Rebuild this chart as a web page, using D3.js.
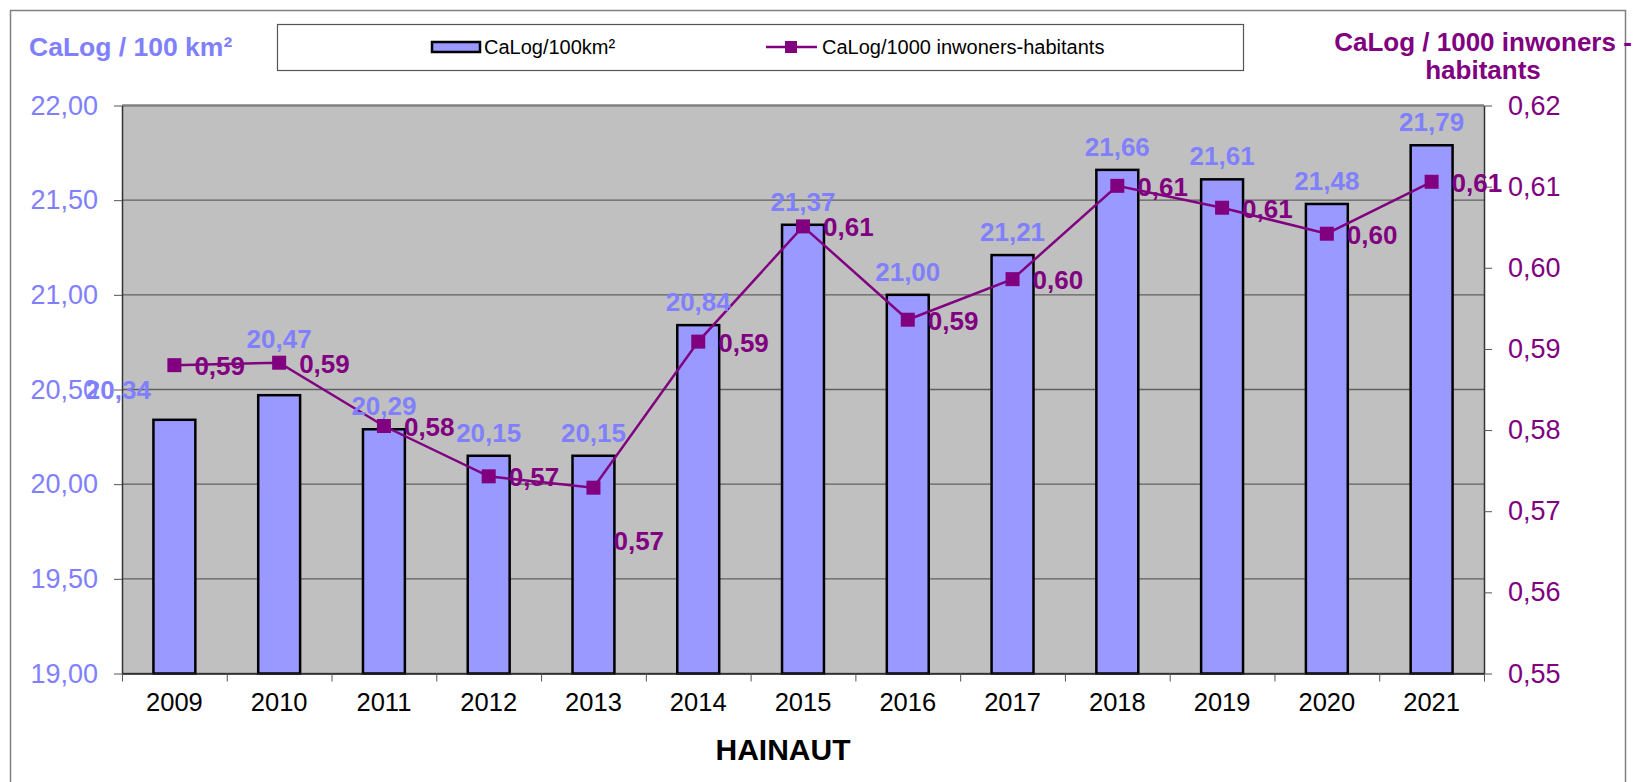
<!DOCTYPE html>
<html lang="fr">
  <head>
    <meta charset="utf-8" />
    <title>HAINAUT</title>
    <script src="https://d3js.org/d3.v7.min.js"></script>
    <style>
      body { margin: 0; background: #fff; }
      text { font-family: "Liberation Sans", Arial, sans-serif; }
    </style>
  </head>
  <body>
    <div id="chart"></div>
    <script>
      var years = ["2009", "2010", "2011", "2012", "2013", "2014", "2015", "2016", "2017", "2018", "2019", "2020", "2021"];
      var perArea = [20.34, 20.47, 20.29, 20.15, 20.15, 20.84, 21.37, 21.0, 21.21, 21.66, 21.61, 21.48, 21.79];
      var perInhabitants = [0.588, 0.5883, 0.5805, 0.5743, 0.5729, 0.5909, 0.6051, 0.5936, 0.5986, 0.6101, 0.6074, 0.6042, 0.6106];
      var leftTicks = [19.0, 19.5, 20.0, 20.5, 21.0, 21.5, 22.0];
      var rightTicks = [0.55, 0.56, 0.57, 0.58, 0.59, 0.6, 0.61, 0.62];
      var leftTitle = "CaLog / 100 km²";
      var rightTitle = ["CaLog / 1000 inwoners -", "habitants"];
      var seriesNames = ["CaLog/100km²", "CaLog/1000 inwoners-habitants"];
      var xTitle = "HAINAUT";

      var width = 1639,
        height = 782;
      var plot = { left: 122, right: 1484, top: 105.5, bottom: 673.5 };
      var barColor = "#9999ff";
      var lineColor = "#800080";
      var leftColor = "#8080ff";

      var fr = d3.formatLocale({ decimal: ",", thousands: ".", grouping: [3], currency: ["", "€"] });
      var fmt = fr.format(".2f");

      var svg = d3
        .select("#chart")
        .append("svg")
        .attr("width", width)
        .attr("height", height);

      // outer frame
      svg
        .append("rect")
        .attr("x", 10.5)
        .attr("y", 10.5)
        .attr("width", 1615)
        .attr("height", 800)
        .attr("fill", "none")
        .attr("stroke", "#808080")
        .attr("stroke-width", 1.5);

      var x = d3.scaleBand().domain(years).range([plot.left, plot.right]).paddingInner(0.6).paddingOuter(0.3);
      var xEdge = d3.scaleLinear().domain([0, years.length]).range([plot.left, plot.right]);
      var yLeft = d3.scaleLinear().domain([19, 22]).range([plot.bottom, plot.top]);
      var yRight = d3.scaleLinear().domain([0.55, 0.62]).range([plot.bottom, plot.top]);

      svg
        .append("rect")
        .attr("x", plot.left)
        .attr("y", plot.top)
        .attr("width", plot.right - plot.left)
        .attr("height", plot.bottom - plot.top)
        .attr("fill", "#c0c0c0");

      svg
        .append("g")
        .selectAll("line")
        .data(leftTicks)
        .enter()
        .append("line")
        .attr("x1", plot.left)
        .attr("x2", plot.right)
        .attr("y1", (d) => yLeft(d))
        .attr("y2", (d) => yLeft(d))
        .attr("stroke", (d, i) => (i == leftTicks.length - 1 ? "#808080" : "#606060"))
        .attr("stroke-width", (d, i) => (i == leftTicks.length - 1 ? 2.5 : 1.3));

      svg
        .append("g")
        .selectAll("rect")
        .data(perArea)
        .enter()
        .append("rect")
        .attr("x", (d, i) => x(years[i]))
        .attr("width", x.bandwidth())
        .attr("y", (d) => yLeft(d))
        .attr("height", (d) => plot.bottom - yLeft(d))
        .attr("fill", barColor)
        .attr("stroke", "#000")
        .attr("stroke-width", 2.5);

      // left axis
      var axL = svg
        .append("g")
        .attr("transform", "translate(" + plot.left + ",0)")
        .call(d3.axisLeft(yLeft).tickValues(leftTicks).tickFormat(fmt).tickSize(8).tickSizeOuter(0).tickPadding(16));
      axL.select(".domain").attr("stroke", "#333").attr("stroke-width", 1.5);
      axL.selectAll(".tick line").attr("stroke", "#555");
      axL.selectAll("text").attr("fill", leftColor).style("font-size", "27px");

      // right axis
      var axR = svg
        .append("g")
        .attr("transform", "translate(" + plot.right + ",0)")
        .call(d3.axisRight(yRight).tickValues(rightTicks).tickFormat(fmt).tickSize(8).tickSizeOuter(0).tickPadding(16));
      axR.select(".domain").attr("stroke", "#333").attr("stroke-width", 1.5);
      axR.selectAll(".tick line").attr("stroke", "#555");
      axR.selectAll("text").attr("fill", lineColor).style("font-size", "27px");

      // bottom axis: tick marks between categories, labels centred
      var axB = svg
        .append("g")
        .attr("transform", "translate(0," + plot.bottom + ")")
        .call(d3.axisBottom(xEdge).ticks(years.length).tickFormat("").tickSize(8).tickSizeOuter(0));
      axB.select(".domain").attr("stroke", "#222").attr("stroke-width", 1.5);
      axB.selectAll(".tick line").attr("stroke", "#555");

      svg
        .append("g")
        .attr("transform", "translate(0," + plot.bottom + ")")
        .call(d3.axisBottom(x).tickSize(0).tickPadding(19))
        .call((g) => g.select(".domain").remove())
        .selectAll("text")
        .attr("fill", "#000")
        .style("font-size", "25.5px");

      // line series
      var line = d3
        .line()
        .x((d, i) => x(years[i]) + x.bandwidth() / 2)
        .y((d) => yRight(d));

      svg
        .append("path")
        .datum(perInhabitants)
        .attr("d", line)
        .attr("fill", "none")
        .attr("stroke", lineColor)
        .attr("stroke-width", 2.5);

      svg
        .append("g")
        .selectAll("rect")
        .data(perInhabitants)
        .enter()
        .append("rect")
        .attr("x", (d, i) => x(years[i]) + x.bandwidth() / 2 - 7)
        .attr("y", (d) => yRight(d) - 7)
        .attr("width", 14)
        .attr("height", 14)
        .attr("fill", lineColor);

      // bar labels (a couple were moved by hand in the original)
      var barNudge = { 2009: [-56, -7], 2010: [0, -33] };
      svg
        .append("g")
        .selectAll("text")
        .data(perArea)
        .enter()
        .append("text")
        .attr("x", (d, i) => x(years[i]) + x.bandwidth() / 2 + (barNudge[years[i]] ? barNudge[years[i]][0] : 0))
        .attr("y", (d, i) => yLeft(d) - 14 + (barNudge[years[i]] ? barNudge[years[i]][1] : 0))
        .attr("text-anchor", "middle")
        .attr("fill", leftColor)
        .style("font-size", "26px")
        .style("font-weight", "bold")
        .text((d) => fmt(d));

      var lineNudge = { 2013: [0, 52] };
      svg
        .append("g")
        .selectAll("text")
        .data(perInhabitants)
        .enter()
        .append("text")
        .attr("x", (d, i) => x(years[i]) + x.bandwidth() / 2 + 20 + (lineNudge[years[i]] ? lineNudge[years[i]][0] : 0))
        .attr("y", (d, i) => yRight(d) + 10 + (lineNudge[years[i]] ? lineNudge[years[i]][1] : 0))
        .attr("fill", lineColor)
        .style("font-size", "26px")
        .style("font-weight", "bold")
        .text((d) => fmt(d));

      // titles
      svg
        .append("text")
        .attr("x", 29)
        .attr("y", 56)
        .attr("fill", leftColor)
        .style("font-size", "26.5px")
        .style("font-weight", "bold")
        .text(leftTitle);

      svg
        .append("g")
        .selectAll("text")
        .data(rightTitle)
        .enter()
        .append("text")
        .attr("x", 1483)
        .attr("y", (d, i) => 51 + i * 28)
        .attr("text-anchor", "middle")
        .attr("fill", lineColor)
        .style("font-size", "26px")
        .style("font-weight", "bold")
        .text((d) => d);

      svg
        .append("text")
        .attr("x", 783)
        .attr("y", 760)
        .attr("text-anchor", "middle")
        .attr("fill", "#000")
        .style("font-size", "30px")
        .style("font-weight", "bold")
        .text(xTitle);

      // legend
      var legend = svg.append("g");
      legend
        .append("rect")
        .attr("x", 277.5)
        .attr("y", 24.5)
        .attr("width", 966)
        .attr("height", 46)
        .attr("fill", "#fff")
        .attr("stroke", "#555")
        .attr("stroke-width", 1.2);

      legend
        .append("rect")
        .attr("x", 432)
        .attr("y", 42)
        .attr("width", 48)
        .attr("height", 10)
        .attr("fill", barColor)
        .attr("stroke", "#000")
        .attr("stroke-width", 2.5);

      legend
        .append("line")
        .attr("x1", 766)
        .attr("x2", 817)
        .attr("y1", 47)
        .attr("y2", 47)
        .attr("stroke", lineColor)
        .attr("stroke-width", 2.5);

      legend
        .append("rect")
        .attr("x", 785)
        .attr("y", 41)
        .attr("width", 12)
        .attr("height", 12)
        .attr("fill", lineColor);

      legend
        .selectAll(".name")
        .data(seriesNames)
        .enter()
        .append("text")
        .attr("class", "name")
        .attr("x", (d, i) => (i == 0 ? 484 : 822))
        .attr("y", 54)
        .attr("fill", "#000")
        .style("font-size", "20px")
        .text((d) => d);
    </script>
  </body>
</html>
